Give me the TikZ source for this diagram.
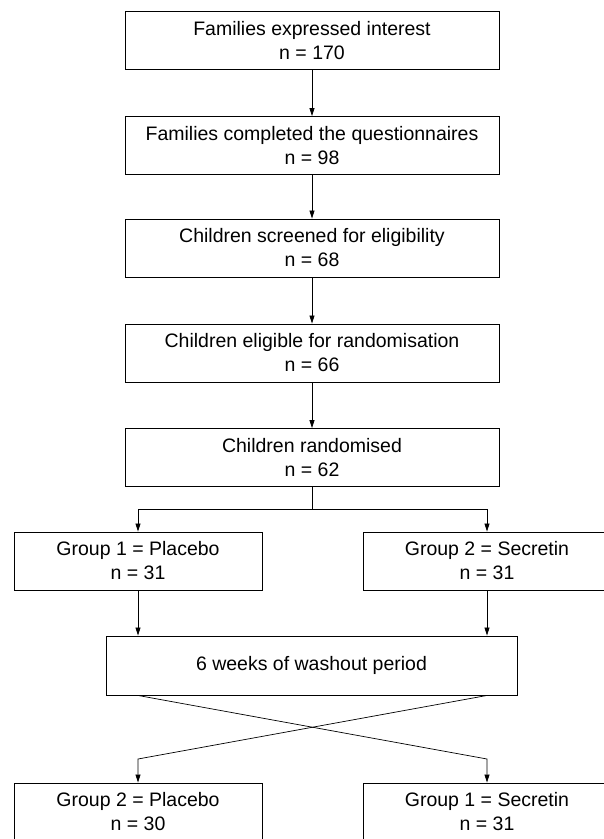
\documentclass[tikz,border=0pt]{standalone}
\usepackage{fontspec}
\setmainfont{Liberation Sans}
\usetikzlibrary{arrows.meta}
\begin{document}
\begin{tikzpicture}[x=1pt, y=-1pt, >={Triangle[length=8pt,width=5pt]},
  box/.style={draw, line width=0.9pt, align=center, minimum height=58pt, inner sep=0pt, font=\fontsize{19.5}{24}\selectfont},
  stage/.style={box, minimum width=374pt},
  arm/.style={box, minimum width=248pt},
  link/.style={line width=0.7pt}]
\useasboundingbox (0,0) rectangle (604,839);
\node[stage] (a) at (312,40.5) {Families expressed interest\\n = 170};
\node[stage] (b) at (312,145.5) {Families completed the questionnaires\\n = 98};
\node[stage] (c) at (312,248) {Children screened for eligibility\\n = 68};
\node[stage] (d) at (312,353) {Children eligible for randomisation\\n = 66};
\node[stage] (e) at (312,457.5) {Children randomised\\n = 62};
\node[arm] (g1) at (138,561) {Group 1 = Placebo\\n = 31};
\node[arm] (g2) at (487,561) {Group 2 = Secretin\\n = 31};
\node[box, minimum width=411pt, minimum height=59pt] (wash) at (311.5,665.5) {6 weeks of washout period};
\node[arm] (p2) at (138,812) {Group 2 = Placebo\\n = 30};
\node[arm] (s1) at (487,812) {Group 1 = Secretin\\n = 31};
\coordinate (split) at (312,509);
\coordinate (lbend) at (138,759);
\coordinate (rbend) at (487,759);
\draw[link,->] (a) -- (b);
\draw[link,->] (b) -- (c);
\draw[link,->] (c) -- (d);
\draw[link,->] (d) -- (e);
\draw[link] (e) -- (split);
\draw[link,->] (split) -| (g1);
\draw[link,->] (split) -| (g2);
\draw[link,->] (g1) -- (g1 |- wash.north);
\draw[link,->] (g2) -- (g2 |- wash.north);
\draw[link,->] (wash.south -| g1) -- (rbend) -- (s1);
\draw[link,->] (wash.south -| g2) -- (lbend) -- (p2);
\end{tikzpicture}
\end{document}
